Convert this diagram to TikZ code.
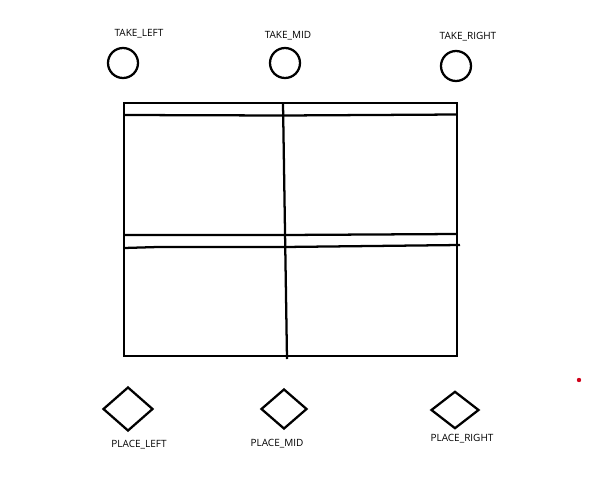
\documentclass[tikz,border=0pt]{standalone}
\usepackage{fontspec}
\setmainfont{Open Sans}
\usetikzlibrary{shapes.geometric}

\tikzset{
  take/.style={draw, circle, line width=1.7, minimum size=22.5pt, inner sep=0pt},
  place/.style={draw, diamond, line width=1.7, inner sep=0pt},
  lbl/.style={inner sep=0.75pt, font=\fontsize{7.5}{9}\selectfont},
}

\begin{document}
\begin{tikzpicture}[x=0.75pt,y=0.75pt,yscale=-1,xscale=1]
\useasboundingbox (0,0) rectangle (594,483);

%Shapes: Circles
\node [take] (takeL) at (123,63) {};
\node [take] (takeM) at (285,63) {};
\node [take] (takeR) at (456,66) {};
%Shapes: Diamonds
\node [place, minimum width=37.5pt, minimum height=33pt] (placeL) at (128,409) {};
\node [place, minimum width=34.5pt, minimum height=30pt] (placeM) at (284,409) {};
\node [place, minimum width=36pt, minimum height=28pt] (placeR) at (455,410) {};

%Shape: Rectangle
\draw [line width=1.7]  (124,103) rectangle (457,356) ;
%Straight Lines
\draw [line width=1.7]    (283,103) -- (287,359) ;
%Straight Lines
\draw [line width=1.7]    (124,115) -- (283,115.5) -- (457,114.5) ;
%Straight Lines
\draw [line width=1.7]    (124,235) -- (284,235) -- (457,234) ;
%Straight Lines
\draw [line width=1.7]    (124,248) -- (158,247) -- (284,247) -- (460,245) ;

%Red dot
\fill [color={rgb, 255:red, 208; green, 2; blue, 27 }] (579,380) circle (2.2) ;

% Text Node
\node [lbl] (lblTakeL) at (139,34) {TAKE\_LEFT};
% Text Node
\node [lbl] (lblTakeM) at (288,36) {TAKE\_MID};
% Text Node
\node [lbl] (lblTakeR) at (468,37) {TAKE\_RIGHT};
% Text Node
\node [lbl] (lblPlaceL) at (139,445) {PLACE\_LEFT};
% Text Node
\node [lbl] (lblPlaceM) at (277,444) {PLACE\_MID};
% Text Node
\node [lbl] (lblPlaceR) at (462,439) {PLACE\_RIGHT};

\end{tikzpicture}
\end{document}
